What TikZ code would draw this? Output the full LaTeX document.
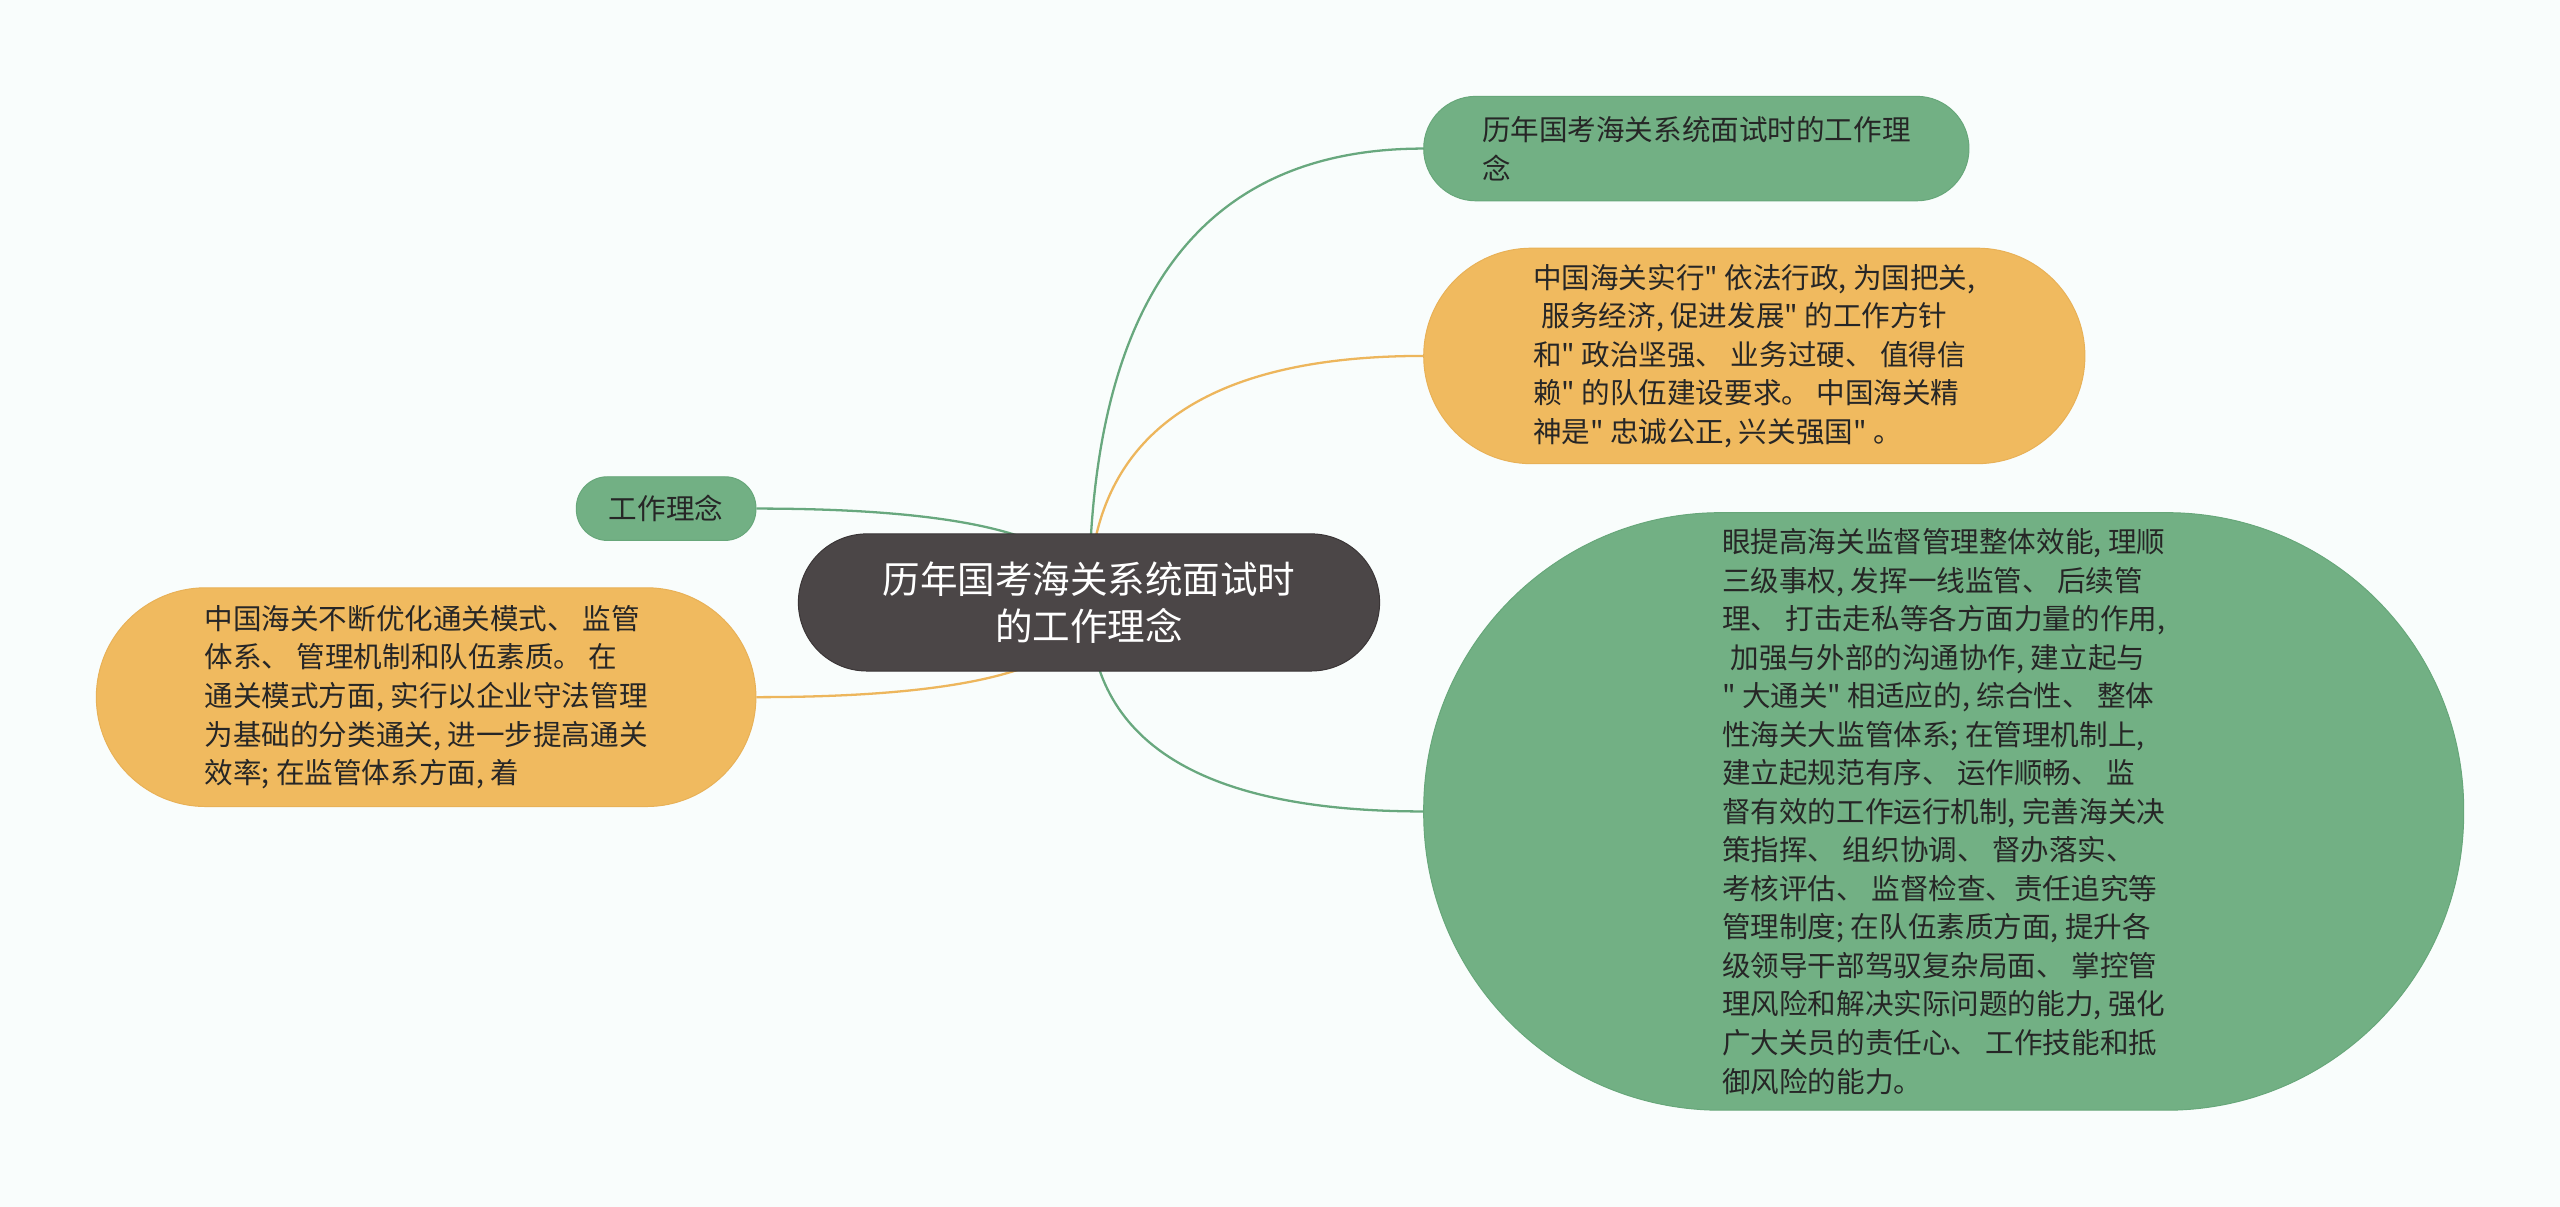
\documentclass[tikz,border=0pt]{standalone}
\usepackage{fontspec}
\setmainfont{Noto Sans CJK SC}[Ligatures=TeXOff]
\usetikzlibrary{calc,backgrounds}

\definecolor{Hintergrund}{HTML}{F9FDFC}
\definecolor{Dunkel}{HTML}{4B4647}
\definecolor{Dunkelrand}{HTML}{3A3536}
\definecolor{Gruen}{HTML}{72B084}
\definecolor{Gruenrand}{HTML}{67A77A}
\definecolor{Gruenlinie}{HTML}{68A87E}
\definecolor{Gelb}{HTML}{F0BA5F}
\definecolor{Gelbrand}{HTML}{E8B157}
\definecolor{Gelblinie}{HTML}{EDB65C}

\begin{document}
\begin{tikzpicture}[x=1pt, y=-1pt,
	zweig/.style={rectangle, inner sep=0pt, align=left, text=black!85, font=\fontsize{17.5}{23.6}\selectfont},
	gruenzweig/.style={zweig, fill=Gruen, draw=Gruenrand, line width=0.6pt},
	gelbzweig/.style={zweig, fill=Gelb, draw=Gelbrand, line width=0.6pt},
	linie/.style={line width=1.4pt}]
	\useasboundingbox (0,0) rectangle (1568,739);
	\node (Thema) [rectangle, rounded corners=42pt, minimum width=356pt, minimum height=84pt, inner sep=0pt, fill=Dunkel, draw=Dunkelrand, line width=0.6pt, text=white, align=center, font=\fontsize{23}{29}\selectfont] at (667,369) {历年国考海关系统面试时\\的工作理念};
	\node (Titel) [gruenzweig, rounded corners=32pt, minimum width=334pt, minimum height=64pt] at (1039,91) {历年国考海关系统面试时的工作理\\念};
	\node (Leitlinie) [gelbzweig, rounded corners=66pt, minimum width=405pt, minimum height=132pt] at (1074.5,218) {中国海关实行" 依法行政, 为国把关,\\\hspace*{.3em}服务经济, 促进发展" 的工作方针\\和" 政治坚强、 业务过硬、 值得信\\赖" 的队伍建设要求。 中国海关精\\神是" 忠诚公正, 兴关强国" 。};
	\node (Aufsicht) [gruenzweig, rounded corners=182pt, minimum width=637pt, minimum height=366pt] at (1190.5,497) {眼提高海关监督管理整体效能, 理顺\\三级事权, 发挥一线监管、 后续管\\理、 打击走私等各方面力量的作用,\\\hspace*{.3em}加强与外部的沟通协作, 建立起与\\" 大通关" 相适应的, 综合性、 整体\\性海关大监管体系; 在管理机制上,\\建立起规范有序、 运作顺畅、 监\\督有效的工作运行机制, 完善海关决\\策指挥、 组织协调、 督办落实、\\考核评估、 监督检查、责任追究等\\管理制度; 在队伍素质方面, 提升各\\级领导干部驾驭复杂局面、 掌控管\\理风险和解决实际问题的能力, 强化\\广大关员的责任心、 工作技能和抵\\御风险的能力。};
	\node (Idee) [gruenzweig, rounded corners=19pt, minimum width=110pt, minimum height=39pt, align=center] at (408,311.5) {工作理念};
	\node (Abfertigung) [gelbzweig, rounded corners=67pt, minimum width=404pt, minimum height=134pt] at (261,427) {中国海关不断优化通关模式、 监管\\体系、 管理机制和队伍素质。 在\\通关模式方面, 实行以企业守法管理\\为基础的分类通关, 进一步提高通关\\效率; 在监管体系方面, 着};
	\begin{scope}[on background layer]
		\fill [Hintergrund] (0,0) rectangle (1568,739);
		\draw [linie, Gruenlinie] (Thema.center) .. controls ($(Thema.center)!2/3!(Thema.center |- Titel.west)$) and ($(Titel.west)!2/3!(Thema.center |- Titel.west)$) .. (Titel.west);
		\draw [linie, Gelblinie] (Thema.center) .. controls ($(Thema.center)!2/3!(Thema.center |- Leitlinie.west)$) and ($(Leitlinie.west)!2/3!(Thema.center |- Leitlinie.west)$) .. (Leitlinie.west);
		\draw [linie, Gruenlinie] (Thema.center) .. controls ($(Thema.center)!2/3!(Thema.center |- Aufsicht.west)$) and ($(Aufsicht.west)!2/3!(Thema.center |- Aufsicht.west)$) .. (Aufsicht.west);
		\draw [linie, Gruenlinie] (Thema.center) .. controls ($(Thema.center)!2/3!(Thema.center |- Idee.east)$) and ($(Idee.east)!2/3!(Thema.center |- Idee.east)$) .. (Idee.east);
		\draw [linie, Gelblinie] (Thema.center) .. controls ($(Thema.center)!2/3!(Thema.center |- Abfertigung.east)$) and ($(Abfertigung.east)!2/3!(Thema.center |- Abfertigung.east)$) .. (Abfertigung.east);
	\end{scope}
\end{tikzpicture}
\end{document}
